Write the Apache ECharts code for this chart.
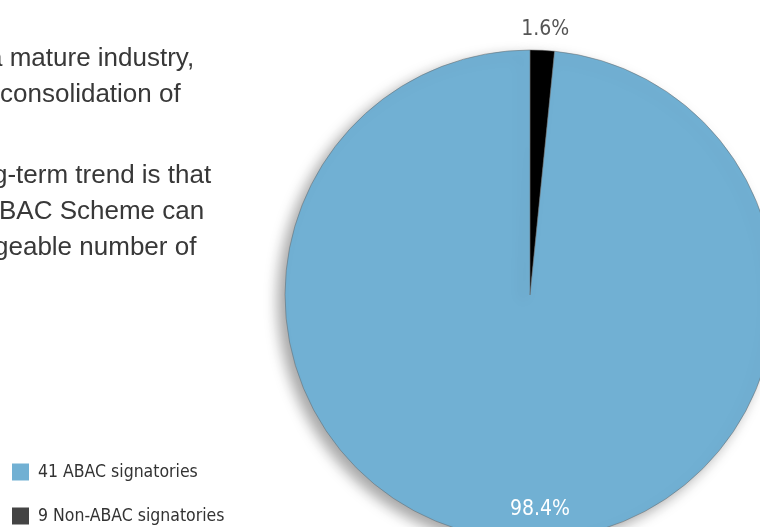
<!DOCTYPE html>
<html><head><meta charset="utf-8">
<script src="https://cdn.jsdelivr.net/npm/echarts@6/dist/echarts.min.js"></script>
<style>html,body{margin:0;padding:0;background:#fff}#c{width:760px;height:527px}</style>
</head><body><div id="c"></div>
<script>
const categories = ['9 Non-ABAC signatories', '41 ABAC signatories'];
const values = [1.6, 98.4];
const sliceColors = ['#000000', '#71b0d3'];
const legendColors = ['#444444', '#71b0d3'];
const legendOrder = ['41 ABAC signatories', '9 Non-ABAC signatories'];
const bodyLines = [
  ['a mature industry,', -12, 61],
  ['consolidation of', 0, 97],
  ['g-term trend is that', -7, 178],
  ['BAC Scheme can', -1, 214],
  ['geable number of', -6, 250]
];
const condensed = '"Liberation Sans Narrow","DejaVu Sans Condensed","Roboto",sans-serif';

const chart = echarts.init(document.getElementById('c'));
chart.setOption({
  backgroundColor: '#fff',
  animation: false,
  legend: {
    orient: 'vertical', left: 12, top: 463, padding: 0,
    itemWidth: 17, itemHeight: 17, itemGap: 26,
    icon: 'rect',
    itemStyle: { borderWidth: 0, shadowBlur: 0, shadowOffsetX: 0, shadowOffsetY: 0 },
    textStyle: { fontFamily: condensed, fontSize: 17.5, color: '#333', padding: [0, 0, 0, 4] },
    data: legendOrder.map(n => ({ name: n, itemStyle: { color: legendColors[categories.indexOf(n)], borderWidth: 0 } }))
  },
  graphic: bodyLines.map(l => ({
    type: 'text', left: l[1], top: l[2] - 15,
    style: { text: l[0], font: '26px "Liberation Sans", Helvetica, Arial, sans-serif', fill: '#383838' }
  })),
  series: [{
    type: 'pie',
    center: [530, 295], radius: 245,
    startAngle: 90, clockwise: true,
    percentPrecision: 1,
    label: { show: true, formatter: '{d}%', fontFamily: condensed, fontSize: 21 },
    labelLine: { show: false },
    itemStyle: { borderColor: '#666', borderWidth: 0.5, shadowBlur: 14, shadowOffsetX: -7, shadowOffsetY: 6, shadowColor: 'rgba(0,0,0,0.35)' },
    labelLayout: function (p) {
      if (p.dataIndex === 0) {
        return { x: p.rect.x + p.rect.width / 2 + 3, y: p.rect.y - 20, align: 'center', verticalAlign: 'middle' };
      }
      return { x: p.rect.x + p.rect.width / 2 + 10, y: p.rect.y + p.rect.height - 31, align: 'center', verticalAlign: 'middle' };
    },
    data: categories.map((n, i) => ({
      name: n, value: values[i],
      itemStyle: { color: sliceColors[i] },
      label: i === 0 ? { position: 'outside', color: '#555' } : { position: 'inside', color: '#fff' }
    }))
  }]
});
</script></body></html>
